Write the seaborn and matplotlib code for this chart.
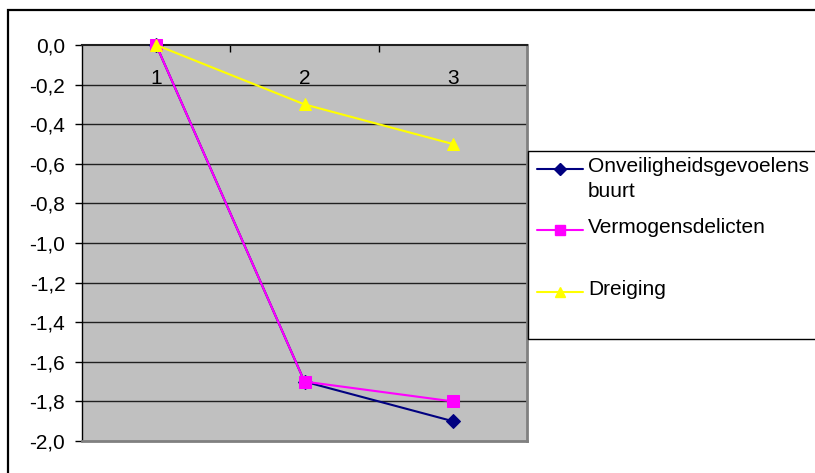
import numpy as np
import pandas as pd
import matplotlib
matplotlib.use("Agg")
import matplotlib.pyplot as plt
import matplotlib.patches as mpatches
from matplotlib.lines import Line2D
from matplotlib.ticker import FixedLocator, FuncFormatter
import seaborn as sns

# data
meting = [1, 2, 3]
onveilig = [0.0, -1.7, -1.9]
vermogen = [0.0, -1.7, -1.8]
dreiging = [0.0, -0.3, -0.5]

series = [
    {"label": "Onveiligheidsgevoelens\nbuurt", "values": onveilig, "color": "#000080", "marker": "D", "ms": 7},
    {"label": "Vermogensdelicten", "values": vermogen, "color": "#FF00FF", "marker": "s", "ms": 8.5},
    {"label": "Dreiging", "values": dreiging, "color": "#FFFF00", "marker": "^", "ms": 8.5},
]

sns.set_theme(style="white")
plt.rcParams["font.family"] = ["Liberation Sans", "DejaVu Sans"]
fs = 15

W, H = 815, 473
fig = plt.figure(figsize=(W / 100, H / 100), dpi=100)
fig.patch.set_facecolor("white")
ax = fig.add_axes([82 / W, 1 - 441 / H, 445 / W, 396 / H])
ax.set_facecolor("#C0C0C0")

for s in series:
    df = pd.DataFrame({"meting": meting, "waarde": s["values"]})
    sns.lineplot(data=df, x="meting", y="waarde", ax=ax, color=s["color"],
                 marker=s["marker"], markersize=s["ms"], markeredgecolor=s["color"],
                 linewidth=1.5, zorder=5, clip_on=False)

ax.set_xlim(0.5, 3.5)
ax.set_ylim(-2.0, 0.0)
ax.set_xlabel("")
ax.set_ylabel("")

# y axis
yt = np.round(np.arange(-2.0, 0.01, 0.2), 1)
ax.yaxis.set_major_locator(FixedLocator(yt))
ax.yaxis.set_major_formatter(FuncFormatter(lambda v, p: f"{v:.1f}".replace(".", ",").replace("-0,0", "0,0")))
ax.tick_params(axis="y", which="major", left=True, length=5, width=1, color="black",
               pad=7, labelsize=fs, labelcolor="black")
for v in yt[1:-1]:
    ax.axhline(v, color="#202020", linewidth=1, zorder=1)

# x axis crosses at 0 (top of plot)
ax.xaxis.set_major_locator(FixedLocator(meting))
ax.xaxis.set_minor_locator(FixedLocator([1.5, 2.5]))
ax.xaxis.set_major_formatter(FuncFormatter(lambda v, p: f"{int(v)}"))
ax.tick_params(axis="x", which="major", top=True, bottom=False, labeltop=True,
               labelbottom=False, length=0, pad=-31, labelsize=fs, labelcolor="black")
ax.tick_params(axis="x", which="minor", top=True, bottom=False, direction="in",
               length=5, width=1, color="black")

for side in ["left", "top"]:
    ax.spines[side].set_color("black")
    ax.spines[side].set_linewidth(1)
for side in ["right", "bottom"]:
    ax.spines[side].set_color("#808080")
    ax.spines[side].set_linewidth(2)
ax.spines["top"].set_color("#202020")
ax.spines["top"].set_linewidth(1.5)

# legend, drawn like the spreadsheet one
fig.add_artist(mpatches.Rectangle((528 / W, 1 - 339 / H), 300 / W, 188 / H,
                                  transform=fig.transFigure, facecolor="white",
                                  edgecolor="black", linewidth=1))
rows = [169, 230, 292]
for s, yp in zip(series, rows):
    yf = 1 - yp / H
    fig.add_artist(Line2D([537 / W, 583 / W], [yf, yf], transform=fig.transFigure,
                          color=s["color"], linewidth=1.5))
    fig.add_artist(Line2D([560 / W], [yf], transform=fig.transFigure, color=s["color"],
                          marker=s["marker"], markersize=s["ms"] * 0.9,
                          markeredgecolor=s["color"], linestyle="none"))
    fig.text(588 / W, 1 - (yp - 12) / H, s["label"], fontsize=fs, va="top", ha="left",
             color="black", linespacing=1.4)

# outer chart border (cut off at right and bottom)
fig.add_artist(mpatches.Rectangle((8 / W, -0.2), 1.2, 1.2 - 10 / H,
                                  transform=fig.transFigure, fill=False,
                                  edgecolor="black", linewidth=1.6))

fig.savefig("out.png", dpi=100)
